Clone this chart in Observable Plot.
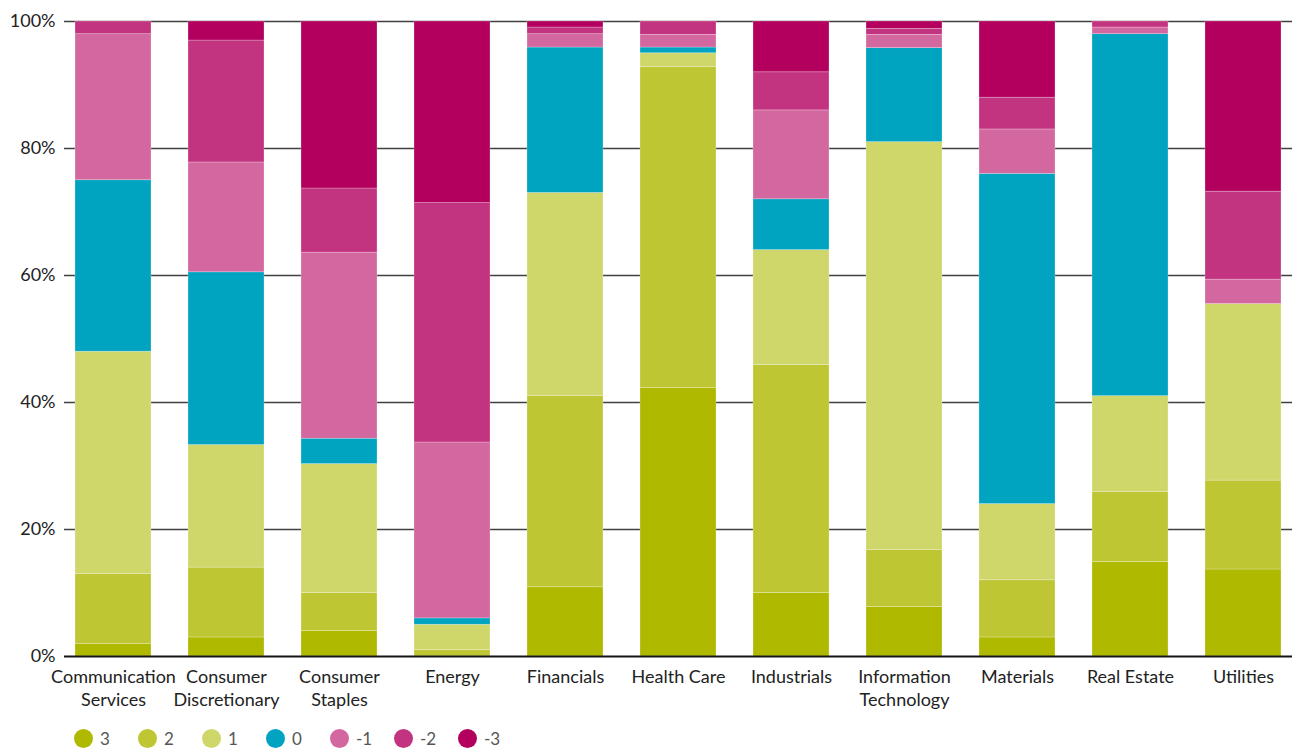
<!DOCTYPE html>
<html>
<head>
<meta charset="utf-8">
<script src="https://cdn.jsdelivr.net/npm/d3@7"></script>
<script src="https://cdn.jsdelivr.net/npm/@observablehq/plot@0.6"></script>
<style>
  html, body { margin: 0; padding: 0; background: #fff; }
  body { width: 1292px; height: 749px; overflow: hidden; font-family: Lato, "Noto Sans", sans-serif; }
  #legend { display: flex; align-items: center; height: 36px; padding-left: 74px; }
  .item { display: flex; align-items: center; width: 64px; }
  .dot { width: 19px; height: 19px; border-radius: 50%; margin-right: 7px; }
  .lab { font-size: 17px; color: #555; }
</style>
</head>
<body>
<div id="chart"></div>
<div id="legend"></div>
<script>
const categories = ["Communication Services","Consumer Discretionary","Consumer Staples","Energy","Financials","Health Care","Industrials","Information Technology","Materials","Real Estate","Utilities"];
const tickLabels = ["Communication\nServices","Consumer\nDiscretionary","Consumer\nStaples","Energy","Financials","Health Care","Industrials","Information\nTechnology","Materials","Real Estate","Utilities"];
const seriesNames = ["3","2","1","0","-1","-2","-3"];
const seriesColors = ["#afb900","#bec634","#cfd66a","#00a3c0","#d3679f","#c33480","#b3005f"];

// values per category (percent), in the order of `categories`
const s3  = [2, 3, 4, 0, 10.9, 42.3, 10, 7.8, 3, 14.9, 13.7];
const s2  = [11, 11, 6, 1, 30.1, 50.5, 35.9, 9, 9, 11, 14];
const s1  = [35, 19.3, 20.3, 4, 32, 2.2, 18.1, 64.2, 12, 15.1, 27.8];
const s0  = [27, 27.2, 4, 1, 22.9, 0.9, 8, 14.8, 52, 57, 0];
const sm1 = [23, 17.3, 29.3, 27.7, 2.1, 2.0, 14, 2.1, 7, 1.05, 3.85];
const sm2 = [2, 19.2, 10.1, 37.7, 1.05, 2.1, 6, 0.95, 5, 0.95, 13.85];
const sm3 = [0, 3, 26.3, 28.6, 0.95, 0, 8, 1.15, 12, 0, 26.8];

const yTicks = [0, 20, 40, 60, 80, 100];

const seriesValues = [s3, s2, s1, s0, sm1, sm2, sm3];
const data = [];
seriesNames.forEach((s, si) => {
  categories.forEach((c, ci) => {
    data.push({category: c, series: s, value: seriesValues[si][ci]});
  });
});
const labelOf = new Map(categories.map((c, i) => [c, tickLabels[i]]));

const chart = Plot.plot({
  width: 1292,
  height: 720,
  marginLeft: 64,
  marginRight: 0,
  marginTop: 21,
  marginBottom: 64,
  style: {fontFamily: "Lato, 'Noto Sans', sans-serif", fontSize: "18px", color: "#222", background: "#fff"},
  x: {domain: categories, range: [56.5, 1300], paddingInner: 0.33, paddingOuter: 0.165, align: 0.5},
  y: {domain: [0, 100]},
  color: {domain: seriesNames, range: seriesColors},
  marks: [
    Plot.ruleY(yTicks.filter(d => d > 0), {stroke: "#404040", strokeWidth: 1.6}),
    Plot.barY(data, {
      x: "category", y: "value", fill: "series",
      order: seriesNames,
      stroke: "white", strokeWidth: 0.7, strokeOpacity: 0.35
    }),
    Plot.ruleY([0], {stroke: "#151515", strokeWidth: 1.8}),
    Plot.axisY({ticks: yTicks, tickFormat: d => d + "%", tickSize: 0, tickPadding: 9, fontSize: 18, label: null, fill: "#222"}),
    Plot.axisX({tickSize: 0, tickPadding: 10, fontSize: 18, label: null, tickFormat: d => labelOf.get(d), lineHeight: 1.28, fill: "#222"})
  ]
});
document.getElementById("chart").appendChild(chart);

const legend = document.getElementById("legend");
seriesNames.forEach((s, i) => {
  const item = document.createElement("div");
  item.className = "item";
  const dot = document.createElement("span");
  dot.className = "dot";
  dot.style.background = seriesColors[i];
  const lab = document.createElement("span");
  lab.className = "lab";
  lab.textContent = s;
  item.appendChild(dot);
  item.appendChild(lab);
  legend.appendChild(item);
});
</script>
</body>
</html>
